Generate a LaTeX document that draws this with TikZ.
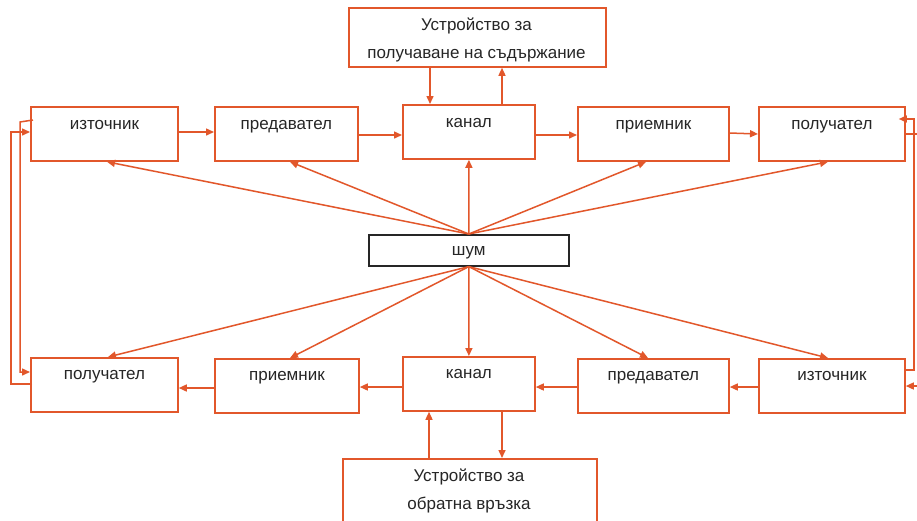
\documentclass[tikz,border=0pt]{standalone}
\usepackage{fontspec}
\setmainfont{Liberation Sans}
\usetikzlibrary{arrows.meta,calc}
\definecolor{oc}{RGB}{226,87,43}
\definecolor{tc}{RGB}{38,38,38}
\begin{document}
\begin{tikzpicture}[x=1pt,y=-1pt,
  every node/.style={font=\fontsize{17}{28}\selectfont, text=tc},
  box/.style={draw=oc, line width=1.8pt, rectangle, inner sep=0pt, anchor=north west, align=center},
  topbox/.style={box, minimum height=54pt, text height=23pt, text depth=31pt},
  botbox/.style={box, minimum height=54pt, text height=22pt, text depth=32pt},
  bigbox/.style={draw=oc, line width=1.8pt, rectangle, inner sep=0pt, anchor=north west},
  noisebox/.style={draw=black!85, line width=1.6pt, rectangle, inner sep=0pt, anchor=north west,
     minimum width=200pt, minimum height=31pt, text height=21pt, text depth=10pt},
  arr/.style={draw=oc, line width=1.5pt, -{Triangle[length=8pt,width=7pt]}}
]
\useasboundingbox (0,0) rectangle (917,520);
\fill[white] (0,0) rectangle (917,520);

% top device
\node[bigbox, minimum width=257pt, minimum height=59pt] (T) at (348,7) {};
\node[align=center, inner sep=0pt] (Ttext) at (476.5,40) {Устройство за\\получаване на съдържание};

% top row
\node[topbox, minimum width=147pt] (t1) at (30,106) {източник};
\node[topbox, minimum width=143pt] (t2) at (214,106) {предавател};
\node[topbox, minimum width=132pt] (t3) at (402,104) {канал};
\node[topbox, minimum width=151pt] (t4) at (577,106) {приемник};
\node[topbox, minimum width=146pt] (t5) at (758,106) {получател};

% noise
\node[noisebox] (N) at (368,234) {шум};

% bottom row
\node[botbox, minimum width=147pt] (b1) at (30,357) {получател};
\node[botbox, minimum width=144pt] (b2) at (214,358) {приемник};
\node[botbox, minimum width=132pt] (b3) at (402,356) {канал};
\node[botbox, minimum width=151pt] (b4) at (577,358) {предавател};
\node[botbox, minimum width=146pt] (b5) at (758,358) {източник};

% bottom device
\node[bigbox, minimum width=254pt, minimum height=80pt] (B) at (342,458) {};
\node[align=center, inner sep=0pt] (Btext) at (469,491) {Устройство за\\обратна връзка};

% top row arrows
\draw[arr] (t1.east |- 0,132) -- (t2.west |- 0,132);
\draw[arr] (t2.east |- 0,135) -- (t3.west |- 0,135);
\draw[arr] (t3.east |- 0,135) -- (t4.west |- 0,135);
\draw[arr] (t4.east |- 0,133) -- (t5.west |- 0,134);

% top device <-> channel
\draw[arr] (T.south -| 430,0) -- (t3.north -| 430,0);
\draw[arr] (t3.north -| 502,0) -- (T.south -| 502,0);

% bottom row arrows
\draw[arr] (b3.west |- 0,387) -- (b2.east |- 0,387);
\draw[arr] (b2.west |- 0,388) -- (b1.east |- 0,388);
\draw[arr] (b4.west |- 0,387) -- (b3.east |- 0,387);
\draw[arr] (b5.west |- 0,387) -- (b4.east |- 0,387);

% bottom device <-> channel
\draw[arr] (B.north -| 429,0) -- (b3.south -| 429,0);
\draw[arr] (b3.south -| 502,0) -- (B.north -| 502,0);

% noise arrows
\draw[arr] (N.north) -- (t1.south -| 107,0);
\draw[arr] (N.north) -- (t2.south -| 290,0);
\draw[arr] (N.north) -- (t3.south);
\draw[arr] (N.north) -- (t4.south -| 646,0);
\draw[arr] (N.north) -- (t5.south -| 828,0);
\draw[arr] (N.south) -- (b1.north -| 108,0);
\draw[arr] (N.south) -- (b2.north -| 290,0);
\draw[arr] (N.south) -- (b3.north);
\draw[arr] (N.south) -- (b4.north -| 648,0);
\draw[arr] (N.south) -- (b5.north -| 828,0);

% left feedback loops
\draw[arr] ($(t1.west |- 0,120)+(3,0)$) -- (20,122) |- (b1.west |- 0,372);
\draw[arr] ($(b1.west |- 0,384)+(2,0)$) -- (11,384) |- (t1.west |- 0,132);

% right feedback loops
\draw[arr] (b5.east |- 0,370) -- (914,370) |- ($(t5.east |- 0,119)+(-7,0)$);
\draw[arr] (t5.east |- 0,134) -- (924,134) |- (b5.east |- 0,386);
\end{tikzpicture}
\end{document}
